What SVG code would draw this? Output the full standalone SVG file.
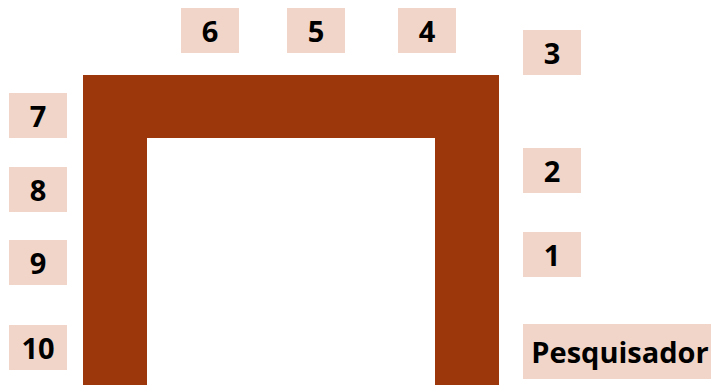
<svg xmlns="http://www.w3.org/2000/svg" width="711" height="385" viewBox="0 0 711 385">
<style>
.box{fill:#F0D5C8}
.lbl{font-family:"Open Sans","DejaVu Sans",sans-serif;font-weight:bold;font-size:29px;fill:#000;text-anchor:middle}
.frame{fill:#9C370C}
</style>
<g id="connectors">
<path class="frame" d="M83,75 H499 V385 H435 V138 H147 V385 H83 Z"/>
</g>
<g id="n6"><rect class="box" x="181" y="8" width="58" height="45"/><text class="lbl" x="210" y="42">6</text></g>
<g id="n5"><rect class="box" x="287" y="8" width="58" height="45"/><text class="lbl" x="316" y="42">5</text></g>
<g id="n4"><rect class="box" x="398" y="8" width="58" height="45"/><text class="lbl" x="427" y="42">4</text></g>
<g id="n3"><rect class="box" x="523" y="30" width="58" height="45"/><text class="lbl" x="552" y="64">3</text></g>
<g id="n2"><rect class="box" x="523" y="148" width="58" height="45"/><text class="lbl" x="552" y="182">2</text></g>
<g id="n1"><rect class="box" x="523" y="232" width="58" height="45"/><text class="lbl" x="552" y="266">1</text></g>
<g id="pesquisador"><rect class="box" x="523" y="324" width="188" height="55"/><text class="lbl" x="620" y="363">Pesquisador</text></g>
<g id="n7"><rect class="box" x="9" y="93" width="58" height="45"/><text class="lbl" x="38" y="127">7</text></g>
<g id="n8"><rect class="box" x="9" y="167" width="58" height="45"/><text class="lbl" x="38" y="201">8</text></g>
<g id="n9"><rect class="box" x="9" y="240" width="58" height="45"/><text class="lbl" x="38" y="274">9</text></g>
<g id="n10"><rect class="box" x="9" y="325" width="58" height="45"/><text class="lbl" x="38" y="359">10</text></g>
</svg>
